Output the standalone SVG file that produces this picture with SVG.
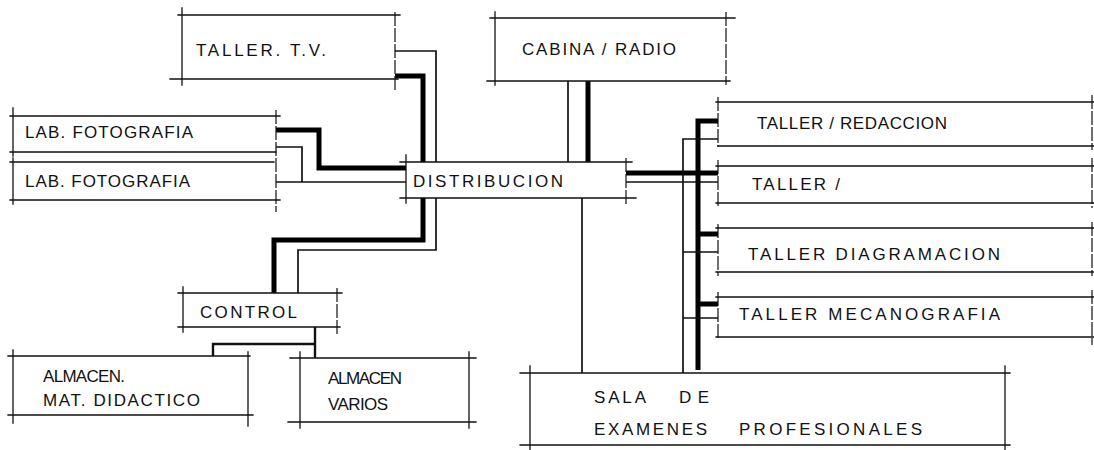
<svg xmlns="http://www.w3.org/2000/svg" width="1094" height="450" viewBox="0 0 1094 450">
<style>
.b{stroke:#111;stroke-width:1.3;fill:none;stroke-linecap:square}
.d{stroke:#111;stroke-width:1.2;fill:none;stroke-dasharray:14 2}
.thin{stroke:#111;stroke-width:1.7;fill:none;stroke-linejoin:miter}
.thick{stroke:#000;stroke-width:5;fill:none;stroke-linejoin:miter}
.mid{stroke:#111;stroke-width:2.4;fill:none}
text{font-family:"Liberation Sans",Arial,sans-serif;font-size:17px;fill:#111}
</style>
<rect width="1094" height="450" fill="#fff"/>
<g id="connectors">
<path class="thick" d="M395,76 H423 V162"/>
<path class="thin" d="M395,51 H436 V162"/>
<path class="thin" d="M568,81 V162"/>
<path class="thick" d="M588,81 V162"/>
<path class="thick" d="M276,130 H319 V168 H406"/>
<path class="thin" d="M276,147 H302 V182"/>
<path class="thin" d="M276,182 H406"/>
<path class="thick" d="M423,198 V240 H274 V293"/>
<path class="thin" d="M436,198 V250 H298 V293"/>
<path class="thin" d="M582,198 V373"/>
<path class="thick" d="M626,173 H718"/>
<path class="thin" d="M626,182 H718"/>
<path class="thick" d="M718,121 H698 V370"/>
<path class="thick" d="M698,234 H718 M698,304 H718"/>
<path class="thin" d="M718,139 H683 V373"/>
<path class="thin" d="M683,252 H718 M683,318 H718"/>
<path class="mid" d="M315,327 V358 M315,344 H213 V356"/>
</g>
<g id="taller-tv">
<path class="b" d="M178,15 H400 M170,79 H398 M182,8 V85"/>
<path class="d" d="M395,12 V90"/>
<text x="196" y="56" textLength="130" lengthAdjust="spacing">TALLER. T.V.</text>
</g>
<g id="cabina-radio">
<path class="b" d="M490,18 H735 M487,81 H730 M495,12 V85"/>
<path class="d" d="M726,12 V85"/>
<text x="522" y="55" textLength="154" lengthAdjust="spacing">CABINA / RADIO</text>
</g>
<g id="lab-fotografia-1">
<path class="b" d="M10,116 H280 M10,152 H276 M13,108 V156"/>
<path class="d" d="M276,110 V212"/>
<text x="25" y="138" textLength="168" lengthAdjust="spacing">LAB. FOTOGRAFIA</text>
</g>
<g id="lab-fotografia-2">
<path class="b" d="M10,162 H274 M10,200 H280 M13,158 V204"/>
<text x="25" y="187" textLength="165" lengthAdjust="spacing">LAB. FOTOGRAFIA</text>
</g>
<g id="distribucion">
<path class="b" d="M400,162 H632 M400,198 H636 M406,155 V203"/>
<path class="d" d="M626,158 V205"/>
<text x="413" y="187" textLength="150" lengthAdjust="spacing">DISTRIBUCION</text>
</g>
<g id="control">
<path class="b" d="M178,293 H342 M178,327 H340 M183,287 V332"/>
<path class="d" d="M337,288 V335"/>
<text x="200" y="318" textLength="97" lengthAdjust="spacing">CONTROL</text>
</g>
<g id="almacen-mat-didactico">
<path class="b" d="M8,356 H250 M8,415 H253 M13,350 V423 M248,352 V426"/>
<text x="43" y="382" textLength="82" lengthAdjust="spacing">ALMACEN.</text>
<text x="43" y="406" textLength="157" lengthAdjust="spacing">MAT. DIDACTICO</text>
</g>
<g id="almacen-varios">
<path class="b" d="M290,358 H476 M288,422 H476 M300,352 V428 M469,352 V428"/>
<text x="328" y="384" textLength="74" lengthAdjust="spacing">ALMACEN</text>
<text x="328" y="410" textLength="60" lengthAdjust="spacing">VARIOS</text>
</g>
<g id="taller-redaccion">
<path class="b" d="M716,102 H1094 M718,146 H1094"/>
<path class="d" d="M718,97 V147 M1092,95 V150"/>
<text x="757" y="129" textLength="190" lengthAdjust="spacing">TALLER / REDACCION</text>
</g>
<g id="taller">
<path class="b" d="M716,166 H1094 M716,203 H1094"/>
<path class="d" d="M718,160 V208 M1092,158 V208"/>
<text x="752" y="190" textLength="88" lengthAdjust="spacing">TALLER /</text>
</g>
<g id="taller-diagramacion">
<path class="b" d="M716,228 H1094 M716,272 H1094"/>
<path class="d" d="M718,224 V276 M1092,222 V276"/>
<text x="748" y="260" textLength="252" lengthAdjust="spacing">TALLER DIAGRAMACION</text>
</g>
<g id="taller-mecanografia">
<path class="b" d="M716,297 H1094 M716,337 H1094"/>
<path class="d" d="M718,292 V340 M1092,290 V345"/>
<text x="739" y="320" textLength="261" lengthAdjust="spacing">TALLER MECANOGRAFIA</text>
</g>
<g id="sala-examenes">
<path class="b" d="M520,373 H1010 M520,445 H1010 M530,366 V450 M1005,366 V450"/>
<text x="594" y="403" textLength="52" lengthAdjust="spacing">SALA</text>
<text x="679" y="403" textLength="30" lengthAdjust="spacing">DE</text>
<text x="594" y="435" textLength="113" lengthAdjust="spacing">EXAMENES</text>
<text x="739" y="435" textLength="183" lengthAdjust="spacing">PROFESIONALES</text>
</g>
</svg>
